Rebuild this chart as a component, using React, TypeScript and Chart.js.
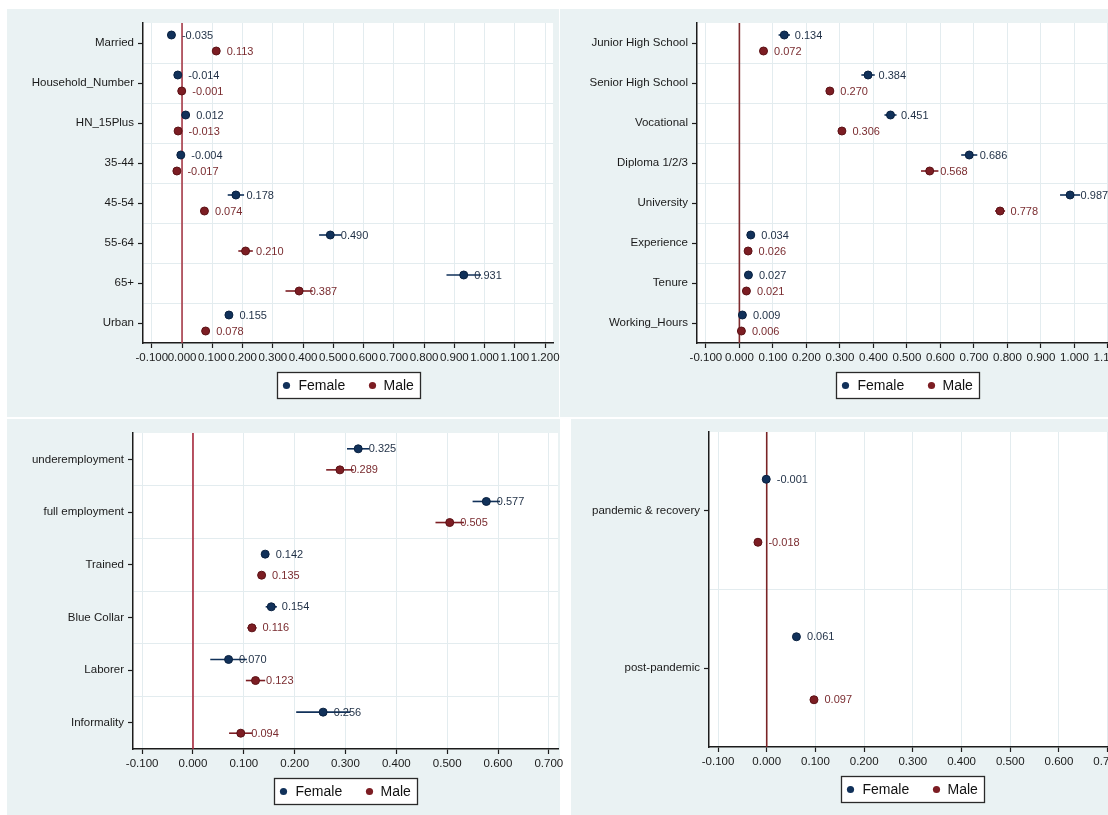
import React, { useEffect, useRef } from 'react';
import { Chart, registerables } from 'chart.js';

Chart.register(...registerables);

// ---- Personal / household characteristics ----
const personalCategories = ['Married', 'Household_Number', 'HN_15Plus', '35-44', '45-54', '55-64', '65+', 'Urban'];
const personalFemale = [-0.035, -0.014, 0.012, -0.004, 0.178, 0.49, 0.931, 0.155];
const personalMale = [0.113, -0.001, -0.013, -0.017, 0.074, 0.21, 0.387, 0.078];
// half-width of the 95% confidence interval
const personalFemaleCI = [0.008, 0.006, 0.007, 0.008, 0.027, 0.037, 0.057, 0.01];
const personalMaleCI = [0.01, 0.006, 0.007, 0.008, 0.01, 0.024, 0.045, 0.009];
const personalTicks = [-0.1, 0, 0.1, 0.2, 0.3, 0.4, 0.5, 0.6, 0.7, 0.8, 0.9, 1.0, 1.1, 1.2];

// ---- Education and work experience ----
const educationCategories = ['Junior High School', 'Senior High School', 'Vocational', 'Diploma 1/2/3', 'University', 'Experience', 'Tenure', 'Working_Hours'];
const educationFemale = [0.134, 0.384, 0.451, 0.686, 0.987, 0.034, 0.027, 0.009];
const educationMale = [0.072, 0.27, 0.306, 0.568, 0.778, 0.026, 0.021, 0.006];
const educationFemaleCI = [0.017, 0.02, 0.018, 0.024, 0.03, 0.006, 0.005, 0.004];
const educationMaleCI = [0.01, 0.01, 0.01, 0.026, 0.015, 0.005, 0.004, 0.003];
const educationTicks = [-0.1, 0, 0.1, 0.2, 0.3, 0.4, 0.5, 0.6, 0.7, 0.8, 0.9, 1.0, 1.1];

// ---- Job characteristics ----
const jobCategories = ['underemployment', 'full employment', 'Trained', 'Blue Collar', 'Laborer', 'Informality'];
const jobFemale = [0.325, 0.577, 0.142, 0.154, 0.07, 0.256];
const jobMale = [0.289, 0.505, 0.135, 0.116, 0.123, 0.094];
const jobFemaleCI = [0.022, 0.027, 0.006, 0.011, 0.036, 0.053];
const jobMaleCI = [0.027, 0.028, 0.006, 0.009, 0.019, 0.023];
const jobTicks = [-0.1, 0, 0.1, 0.2, 0.3, 0.4, 0.5, 0.6, 0.7];

// ---- Period ----
const periodCategories = ['pandemic & recovery', 'post-pandemic'];
const periodFemale = [-0.001, 0.061];
const periodMale = [-0.018, 0.097];
const periodFemaleCI = [0.006, 0.006];
const periodMaleCI = [0.006, 0.006];
const periodTicks = [-0.1, 0, 0.1, 0.2, 0.3, 0.4, 0.5, 0.6, 0.7];

const FONT = 'Arial, "Liberation Sans", Helvetica, sans-serif';
const FEMALE = '#11315a';
const FEMALE_EDGE = '#0a2140';
const FEMALE_TEXT = '#1f2f45';
const MALE = '#7c1d23';
const MALE_EDGE = '#5c1216';
const MALE_TEXT = '#7a2c30';
const AXIS = '#1c1c1c';
const GRID = '#e3ecef';
const PANEL_BG = '#eaf2f3';

type Rect = { left: number; top: number; width: number; height: number };
type Area = { left: number; top: number; right: number; bottom: number };

type Panel = {
  key: string;
  categories: string[];
  female: number[];
  male: number[];
  femaleCI: number[];
  maleCI: number[];
  ticks: number[];
  xMin: number;
  xMax: number;
  zeroColor: string;
  bg: Rect;
  canvas: Rect;
  area: Area;
};

const panels: Panel[] = [
  {
    key: 'personal',
    categories: personalCategories,
    female: personalFemale,
    male: personalMale,
    femaleCI: personalFemaleCI,
    maleCI: personalMaleCI,
    ticks: personalTicks,
    xMin: -0.129,
    xMax: 1.226,
    zeroColor: '#a63a47',
    bg: { left: 7, top: 9, width: 552, height: 408 },
    canvas: { left: 7, top: 9, width: 562, height: 401 },
    area: { left: 143, top: 23, right: 553, bottom: 343 },
  },
  {
    key: 'education',
    categories: educationCategories,
    female: educationFemale,
    male: educationMale,
    femaleCI: educationFemaleCI,
    maleCI: educationMaleCI,
    ticks: educationTicks,
    xMin: -0.1265,
    xMax: 1.127,
    zeroColor: '#7e2b2e',
    bg: { left: 560, top: 9, width: 548, height: 408 },
    canvas: { left: 560, top: 9, width: 572, height: 401 },
    area: { left: 697, top: 23, right: 1117, bottom: 343 },
  },
  {
    key: 'job',
    categories: jobCategories,
    female: jobFemale,
    male: jobMale,
    femaleCI: jobFemaleCI,
    maleCI: jobMaleCI,
    ticks: jobTicks,
    xMin: -0.118,
    xMax: 0.718,
    zeroColor: '#a8283c',
    bg: { left: 7, top: 419, width: 553, height: 396 },
    canvas: { left: 7, top: 419, width: 565, height: 396 },
    area: { left: 133, top: 433, right: 558, bottom: 749 },
  },
  {
    key: 'period',
    categories: periodCategories,
    female: periodFemale,
    male: periodMale,
    femaleCI: periodFemaleCI,
    maleCI: periodMaleCI,
    ticks: periodTicks,
    xMin: -0.1185,
    xMax: 0.715,
    zeroColor: '#7a2426',
    bg: { left: 571, top: 419, width: 537, height: 396 },
    canvas: { left: 571, top: 419, width: 562, height: 396 },
    area: { left: 709, top: 432, right: 1115, bottom: 747 },
  },
];

const fmt = (v: number) => (Math.abs(v) < 1e-9 ? 0 : v).toFixed(3);

function makeDecor(p: Panel) {
  return {
    id: 'coefDecor',
    beforeDraw(chart: any) {
      const { ctx, chartArea: a } = chart;
      ctx.save();
      ctx.fillStyle = '#ffffff';
      ctx.fillRect(a.left, a.top, a.right - a.left, a.bottom - a.top);
      ctx.restore();
    },
    beforeDatasetsDraw(chart: any) {
      const { ctx, chartArea: a } = chart;
      const xs = chart.scales.x;
      ctx.save();
      // reference line at zero
      const x0 = xs.getPixelForValue(0);
      ctx.strokeStyle = p.zeroColor;
      ctx.lineWidth = 1.6;
      ctx.beginPath();
      ctx.moveTo(x0, a.top);
      ctx.lineTo(x0, a.bottom);
      ctx.stroke();
      // confidence interval whiskers
      chart.data.datasets.forEach((ds: any, di: number) => {
        const meta = chart.getDatasetMeta(di);
        ctx.strokeStyle = ds.backgroundColor;
        ctx.lineWidth = 1.6;
        ds.data.forEach((d: any, i: number) => {
          const y = meta.data[i].y;
          const half = ds.ci[i];
          ctx.beginPath();
          ctx.moveTo(xs.getPixelForValue(d.x - half), y);
          ctx.lineTo(xs.getPixelForValue(d.x + half), y);
          ctx.stroke();
        });
      });
      ctx.restore();
    },
    afterDatasetsDraw(chart: any) {
      const { ctx } = chart;
      ctx.save();
      ctx.font = `11px ${FONT}`;
      ctx.textAlign = 'left';
      ctx.textBaseline = 'middle';
      chart.data.datasets.forEach((ds: any, di: number) => {
        const meta = chart.getDatasetMeta(di);
        ctx.fillStyle = ds.textColor;
        ds.data.forEach((d: any, i: number) => {
          const pt = meta.data[i];
          ctx.fillText(fmt(d.x), pt.x + 10.5, pt.y + 0.5);
        });
      });
      ctx.restore();
    },
    afterDraw(chart: any) {
      const { ctx, chartArea: a } = chart;
      const w = 143;
      const h = 26;
      const cx = (a.left + a.right) / 2;
      const left = Math.round(cx - w / 2) + 0.5;
      const top = Math.round(a.bottom + 29) + 0.5;
      ctx.save();
      ctx.fillStyle = '#ffffff';
      ctx.fillRect(left, top, w, h);
      ctx.strokeStyle = '#2a2a2a';
      ctx.lineWidth = 1.3;
      ctx.strokeRect(left, top, w, h);
      ctx.font = `14px ${FONT}`;
      ctx.textAlign = 'left';
      ctx.textBaseline = 'middle';
      const cy = top + h / 2;
      const slots = [
        { dot: 9, text: 21 },
        { dot: 95, text: 106 },
      ];
      chart.data.datasets.forEach((ds: any, di: number) => {
        const s = slots[di];
        ctx.fillStyle = ds.backgroundColor;
        ctx.beginPath();
        ctx.arc(left + s.dot, cy, 3.6, 0, Math.PI * 2);
        ctx.fill();
        ctx.fillStyle = '#111111';
        ctx.fillText(ds.label, left + s.text, cy + 1);
      });
      ctx.restore();
    },
  };
}

function buildConfig(p: Panel): any {
  const n = p.categories.length;
  const yTicks: number[] = [];
  for (let k = 0; k <= 2 * n; k++) yTicks.push(-0.5 + k * 0.5);
  const yWidth = p.area.left - p.canvas.left;
  const xHeight = p.canvas.top + p.canvas.height - p.area.bottom;
  const padTop = p.area.top - p.canvas.top;
  const padRight = p.canvas.left + p.canvas.width - p.area.right;

  return {
    type: 'scatter',
    data: {
      datasets: [
        {
          label: 'Female',
          data: p.female.map((v, i) => ({ x: v, y: i - 0.2 })),
          ci: p.femaleCI,
          textColor: FEMALE_TEXT,
          backgroundColor: FEMALE,
          borderColor: FEMALE_EDGE,
          pointRadius: 4,
          pointBorderWidth: 1,
        },
        {
          label: 'Male',
          data: p.male.map((v, i) => ({ x: v, y: i + 0.2 })),
          ci: p.maleCI,
          textColor: MALE_TEXT,
          backgroundColor: MALE,
          borderColor: MALE_EDGE,
          pointRadius: 4,
          pointBorderWidth: 1,
        },
      ],
    },
    options: {
      responsive: false,
      animation: false,
      events: [],
      layout: { padding: { left: 0, top: padTop, right: padRight, bottom: 0 } },
      plugins: {
        legend: { display: false },
        tooltip: { enabled: false },
        title: { display: false },
      },
      scales: {
        x: {
          type: 'linear',
          position: 'bottom',
          min: p.xMin,
          max: p.xMax,
          afterBuildTicks: (s: any) => {
            s.ticks = p.ticks.map((v) => ({ value: v }));
          },
          afterFit: (s: any) => {
            s.height = xHeight;
            s.paddingLeft = 0;
            s.paddingRight = 0;
          },
          ticks: {
            autoSkip: false,
            maxRotation: 0,
            minRotation: 0,
            padding: 3,
            color: '#1a1a1a',
            font: { family: FONT, size: 11.5 },
            callback: (v: number) => fmt(v),
          },
          grid: {
            color: GRID,
            lineWidth: 1,
            tickLength: 5,
            tickColor: AXIS,
            tickWidth: 1.2,
          },
          border: { display: true, color: AXIS, width: 1.5 },
        },
        y: {
          type: 'linear',
          position: 'left',
          min: -0.5,
          max: n - 0.5,
          reverse: true,
          afterBuildTicks: (s: any) => {
            s.ticks = yTicks.map((v) => ({ value: v }));
          },
          afterFit: (s: any) => {
            s.width = yWidth;
            s.paddingTop = 0;
            s.paddingBottom = 0;
          },
          ticks: {
            autoSkip: false,
            padding: 4,
            color: '#1a1a1a',
            font: { family: FONT, size: 11.5 },
            callback: (v: number) => (Number.isInteger(v) ? p.categories[v] : ''),
          },
          grid: {
            color: (ctx: any) => {
              const v = ctx.tick ? ctx.tick.value : 0;
              return !Number.isInteger(v) && v > -0.5 && v < n - 0.5 ? GRID : 'rgba(0,0,0,0)';
            },
            lineWidth: 1,
            tickLength: 5,
            tickColor: (ctx: any) => (ctx.tick && Number.isInteger(ctx.tick.value) ? AXIS : 'rgba(0,0,0,0)'),
            tickWidth: 1.2,
          },
          border: { display: true, color: AXIS, width: 1.5 },
        },
      },
    },
    plugins: [makeDecor(p)],
  };
}

function PanelChart({ panel }: { panel: Panel }) {
  const ref = useRef<HTMLCanvasElement>(null);
  useEffect(() => {
    if (!ref.current) return;
    const chart = new Chart(ref.current, buildConfig(panel));
    return () => chart.destroy();
  }, [panel]);
  const c = panel.canvas;
  return (
    <canvas
      ref={ref}
      width={c.width}
      height={c.height}
      style={{ position: 'absolute', left: c.left, top: c.top, width: c.width, height: c.height }}
    />
  );
}

export default function App() {
  return (
    <div
      style={{
        position: 'absolute',
        left: 0,
        top: 0,
        width: 1108,
        height: 815,
        overflow: 'hidden',
        background: '#ffffff',
      }}
    >
      {panels.map((p) => (
        <div
          key={`bg-${p.key}`}
          style={{
            position: 'absolute',
            left: p.bg.left,
            top: p.bg.top,
            width: p.bg.width,
            height: p.bg.height,
            background: PANEL_BG,
          }}
        />
      ))}
      {panels.map((p) => (
        <PanelChart key={p.key} panel={p} />
      ))}
    </div>
  );
}
